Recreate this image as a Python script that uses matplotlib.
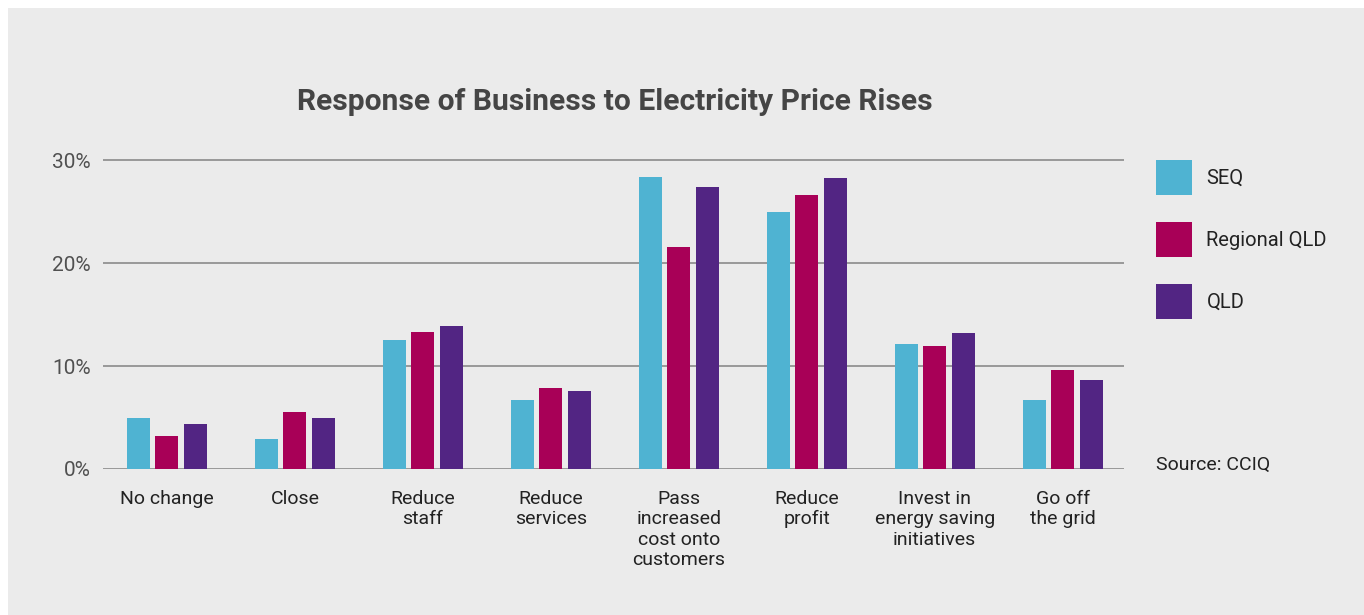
import numpy as np
import matplotlib
matplotlib.use("Agg")
import matplotlib.pyplot as plt
from matplotlib.patches import Rectangle, Patch

plt.rcParams['font.family'] = ['Roboto', 'DejaVu Sans']

categories = ["No change", "Close", "Reduce\nstaff", "Reduce\nservices",
              "Pass\nincreased\ncost onto\ncustomers", "Reduce\nprofit",
              "Invest in\nenergy saving\ninitiatives", "Go off\nthe grid"]
series_names = ["SEQ", "Regional QLD", "QLD"]
seq = [5.0, 2.9, 12.5, 6.7, 28.4, 25.0, 12.1, 6.7]
regional = [3.2, 5.5, 13.3, 7.9, 21.6, 26.6, 11.9, 9.6]
qld = [4.4, 5.0, 13.9, 7.6, 27.4, 28.3, 13.2, 8.6]
colors = ["#4fb3d2", "#a80057", "#522583"]
bg = "#ebebeb"

fig = plt.figure(figsize=(13.64, 6.15), dpi=100, facecolor="white")
# grey panel with a thin white margin on top/left
fig.patches.append(Rectangle((8 / 1364, 0), 1, 1 - 8 / 615, transform=fig.transFigure,
                             facecolor=bg, edgecolor="none", zorder=-5))

ax = fig.add_axes([103 / 1364, 1 - 469 / 615, (1124 - 103) / 1364, 312 / 615])
ax.set_facecolor("none")

x = np.arange(len(categories))
w = 0.18
off = 0.223
for i, (vals, c) in enumerate(zip([seq, regional, qld], colors)):
    ax.bar(x + (i - 1) * off, vals, width=w, color=c, zorder=3)

ax.set_xlim(-0.5, 7.48)
ax.set_ylim(0, 30.3)
ax.set_yticks([0, 10, 20, 30])
ax.set_yticklabels(["0%", "10%", "20%", "30%"])
for s in ax.spines.values():
    s.set_visible(False)
ax.yaxis.grid(True, color="#8a8a8a", linewidth=1.2, zorder=1)
ax.set_axisbelow(True)
ax.tick_params(axis="y", length=0, pad=9, labelsize=15, labelcolor="#505050")
ax.set_xticks(x)
ax.set_xticklabels(categories, fontsize=14, color="#222222", linespacing=1.17)
ax.tick_params(axis="x", length=0, pad=15)

fig.text(615 / 1364, 1 - 110 / 615, "Response of Business to Electricity Price Rises",
         ha="center", va="baseline", fontsize=21.6, fontweight="bold", color="#454545")

handles = [Patch(facecolor=c, edgecolor="none") for c in colors]
fig.legend(handles, series_names, loc="upper left",
           bbox_to_anchor=(1138 / 1364, 1 - 142 / 615), frameon=False,
           fontsize=14.5, handlelength=1.8, handleheight=2.3,
           labelspacing=1.33, handletextpad=0.7, labelcolor="#222222")

fig.text(1156 / 1364, 1 - 470 / 615, "Source: CCIQ", ha="left", va="baseline",
         fontsize=14, color="#222222")

fig.savefig("out.png", dpi=100, facecolor=fig.get_facecolor())
